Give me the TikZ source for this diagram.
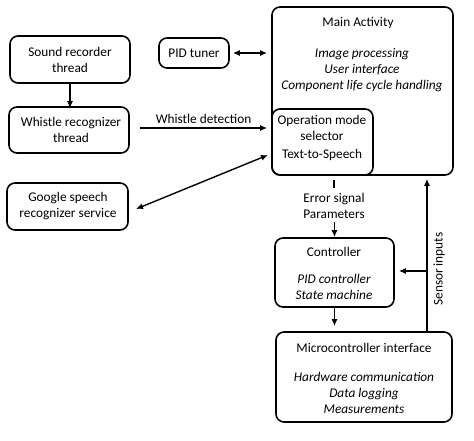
\documentclass[tikz,border=0pt]{standalone}
\usepackage{fontspec}
\setmainfont{Carlito}
\usetikzlibrary{arrows.meta,calc}
\begin{document}
\begin{tikzpicture}[x=1pt,y=1pt,
  box/.style={draw,line width=1.6pt,rounded corners=8pt,inner sep=0pt},
  txt/.style={inner sep=0pt,align=center,font=\fontsize{13.3}{16}\selectfont},
  itx/.style={txt,font=\fontsize{13.3}{16}\selectfont\itshape},
  ln/.style={line width=1.4pt},
  arr/.style={ln,-{Latex[length=7pt,width=6pt]}},
  arrr/.style={ln,{Latex[length=7pt,width=6pt]}-{Latex[length=7pt,width=6pt]}}]
\useasboundingbox (0,0) rectangle (474,-440);
% boxes
\node[box,minimum width=120pt,minimum height=47pt] (sound) at (70,-59.5) {};
\node[box,minimum width=120pt,minimum height=46pt] (whistle) at (69,-130) {};
\node[box,minimum width=121pt,minimum height=47pt] (google) at (67.5,-206.5) {};
\node[box,minimum width=70pt,minimum height=30pt] (pid) at (194,-53) {};
\node[box,minimum width=181pt,minimum height=168pt] (main) at (362.5,-91) {};
\node[box,minimum width=101pt,minimum height=66pt] (op) at (322.5,-142) {};
\node[box,minimum width=119pt,minimum height=69pt] (ctrl) at (334.5,-272.5) {};
\node[box,minimum width=176pt,minimum height=90pt] (micro) at (364,-377) {};
% texts
\node[txt] (tsound) at (70,-60) {Sound recorder\\thread};
\node[txt] (twhistle) at (71,-130) {Whistle recognizer\\thread};
\node[txt] (tgoogle) at (68,-206) {Google speech\\recognizer service};
\node[txt] (tpid) at (194,-53) {PID tuner};
\node[txt] (tmain) at (358,-23) {Main Activity};
\node[itx] (tmain2) at (362,-70.5) {Image processing\\User interface\\Component life cycle handling};
\node[txt] (top1) at (322,-128) {Operation mode\\selector};
\node[txt] (top2) at (322,-155) {Text-to-Speech};
\node[txt] (tctrl) at (334,-252) {Controller};
\node[itx] (tctrl2) at (334,-286.5) {PID controller\\State machine};
\node[txt] (tmicro) at (364,-348) {Microcontroller interface};
\node[itx] (tmicro2) at (364,-392.5) {Hardware communication\\Data logging\\Measurements};
% connectors
\draw[arr] (sound.south) -- ([yshift=-2pt]sound.south |- whistle.north);
\draw[arrr] ([xshift=3pt]pid.east) -- ([xshift=-4pt]main.west |- pid.east);
\coordinate (wd) at (140,-128);
\draw[arr] (wd) -- ([xshift=-4pt]op.west |- wd) node[txt,midway,above=4pt] (twd) {Whistle detection};
\coordinate (gs) at (136,-209);
\coordinate (ge) at (268,-155);
\draw[arrr] (gs) -- (ge);
\coordinate (e1) at (334,-180);
\coordinate (e2) at (334,-188);
\draw[ln] (e1) -- (e2);
\node[txt] (terr) at (334,-206) {Error signal\\Parameters};
\draw[arr] ($(ctrl.north)+(0,15)$) -- (ctrl.north);
\draw[arr] (ctrl.south) -- ([yshift=5pt]ctrl.south |- micro.north);
\coordinate (s0) at (427,-332);
\coordinate (sb) at (427,-271);
\draw[arr] (s0) -- ([yshift=-3pt]s0 |- main.south);
\draw[arr] (sb) -- ([xshift=4pt]ctrl.east |- sb);
\node[txt,rotate=90] (tsens) at (439,-269) {Sensor inputs};
\end{tikzpicture}
\end{document}
